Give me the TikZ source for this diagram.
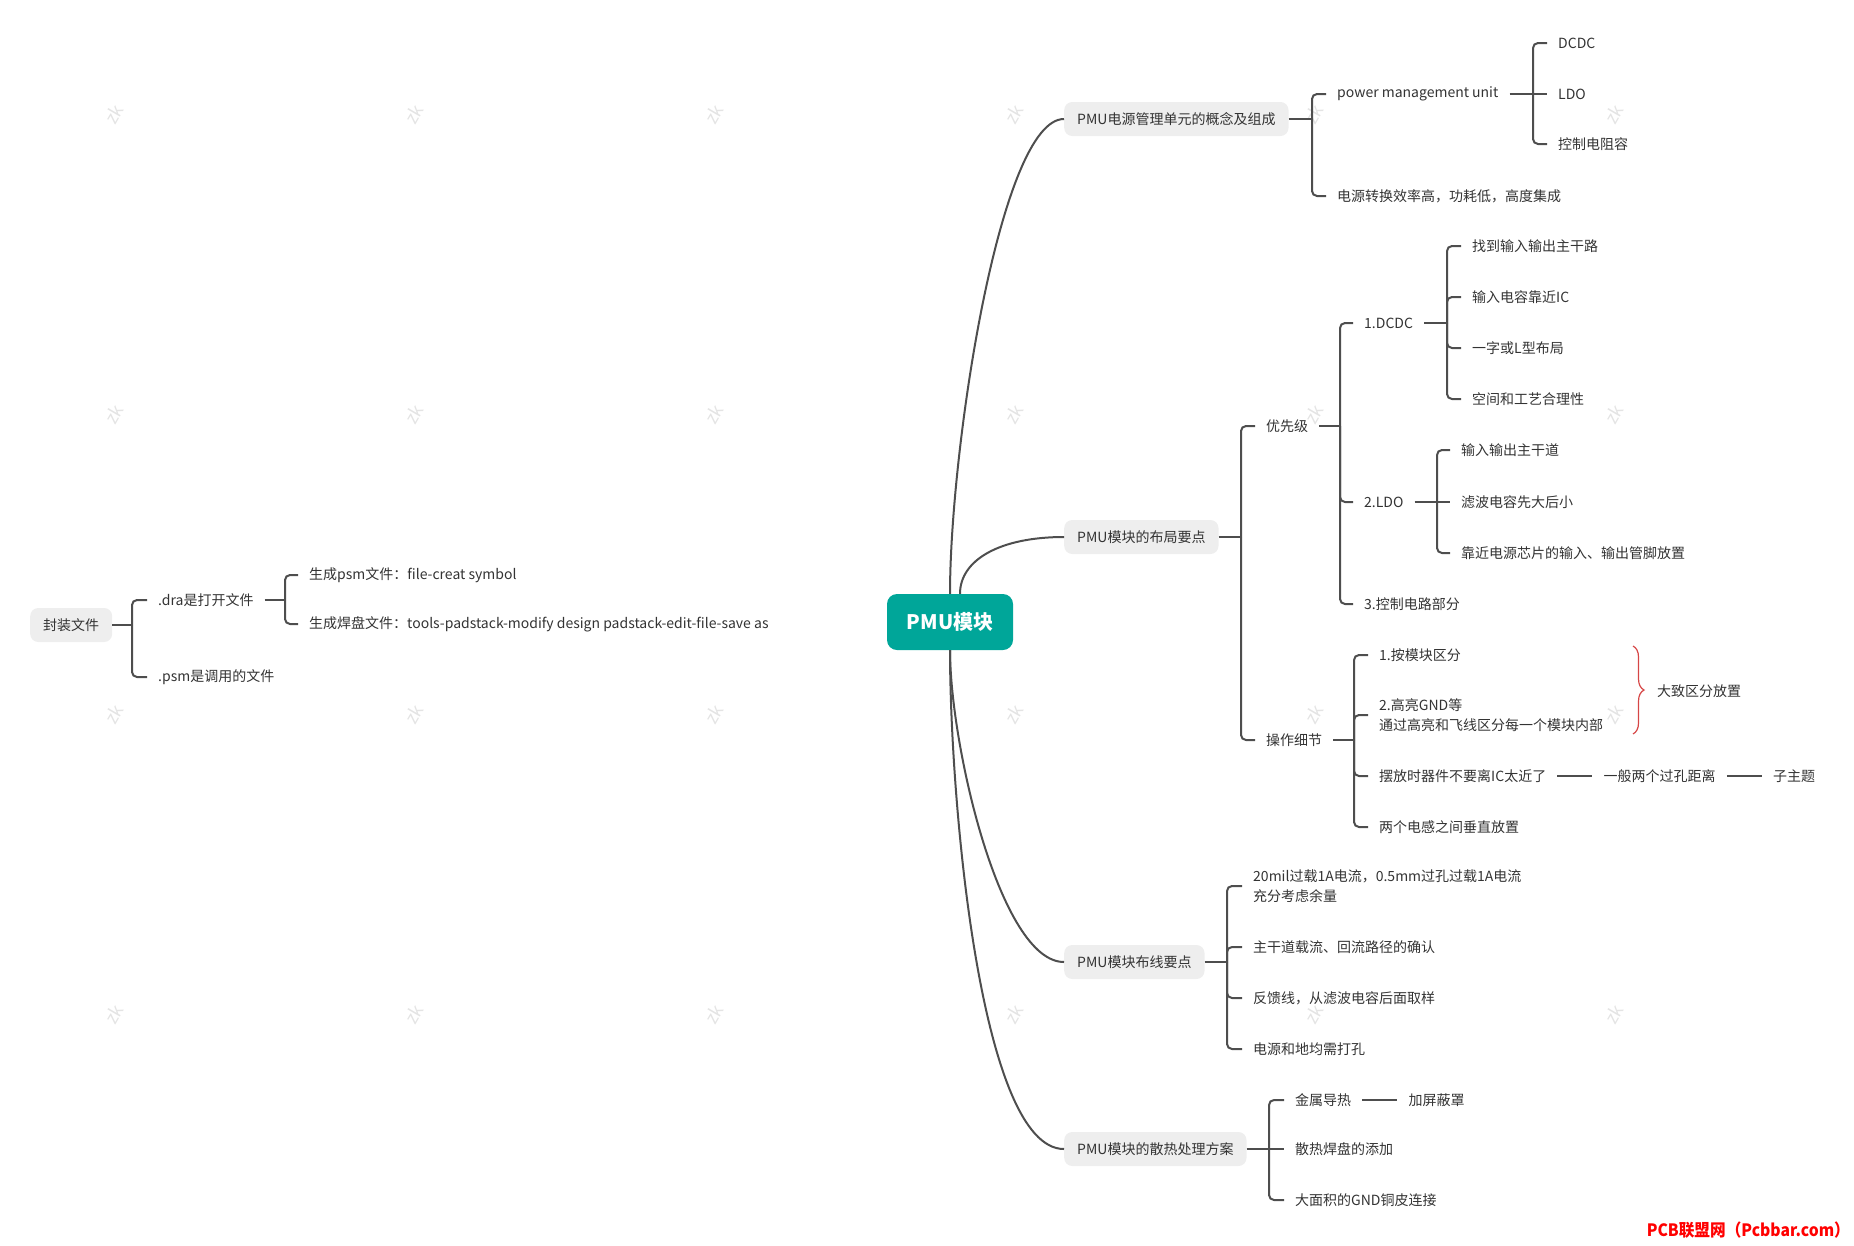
\documentclass[tikz,border=0pt]{standalone}
\usepackage{fontspec}
\setmainfont{Noto Sans CJK SC}
\usetikzlibrary{positioning, decorations.pathreplacing}

\definecolor{rootteal}{RGB}{0,166,153}
\definecolor{topicgray}{RGB}{238,238,238}
\definecolor{txt}{RGB}{51,51,51}
\definecolor{linegray}{RGB}{78,78,78}
\definecolor{wmgray}{RGB}{228,228,228}
\definecolor{bracered}{RGB}{214,70,70}

\begin{document}
\begin{tikzpicture}[x=1pt, y=-1pt,
  root/.style = {fill=rootteal, text=white, font=\bfseries\fontsize{20}{24}\selectfont, rounded corners=10pt, minimum width=126pt, minimum height=56pt, inner sep=0pt},
  topic/.style = {fill=topicgray, text=txt, font=\fontsize{14}{18}\selectfont, rounded corners=8pt, inner xsep=13pt, inner ysep=0pt, minimum height=34pt, anchor=west},
  leaf/.style = {text=txt, font=\fontsize{14}{20}\selectfont, inner xsep=11pt, inner ysep=2pt, align=left, anchor=west},
  link/.style = {draw=linegray, line width=2pt, rounded corners=5pt},
  curve/.style = {draw=linegray, line width=2pt},
  wmark/.style = {text=wmgray, font=\fontsize{18}{18}\selectfont, rotate=60, inner sep=0pt}]
\useasboundingbox (0,0) rectangle (1854,1245);
% faint watermarks
\foreach \x in {114,414,...,1614}
  \foreach \y in {114,414,714,1014}
    \node[wmark] at (\x,\y) {zk};

\node[root] (pmu) at (950,622) {PMU模块};

% left branch
\node[topic] (pkg) at (30,625) {封装文件};
\node[leaf] (dra) at (147,600) {.dra是打开文件};
\node[leaf] (psm) at (147,677) {.psm是调用的文件};
\node[leaf] (psmfile) at (298,575) {生成psm文件：file-creat symbol};
\node[leaf] (padfile) at (298,624) {生成焊盘文件：tools-padstack-modify design padstack-edit-file-save as};

% topic 1
\node[topic] (concept) at (1064,119) {PMU电源管理单元的概念及组成};
\node[leaf] (unit) at (1326,94) {power management unit};
\node[leaf] (eff) at (1326,196) {电源转换效率高，功耗低，高度集成};
\node[leaf] (dcdc) at (1547,43) {DCDC};
\node[leaf] (ldo) at (1547,94) {LDO};
\node[leaf] (rc) at (1547,144) {控制电阻容};

% topic 2
\node[topic] (layout) at (1064,537) {PMU模块的布局要点};
\node[leaf] (prio) at (1255,426) {优先级};
\node[leaf] (oper) at (1255,740) {操作细节};
\node[leaf] (pdcdc) at (1353,323) {1.DCDC};
\node[leaf] (pldo) at (1353,502) {2.LDO};
\node[leaf] (pctrl) at (1353,604) {3.控制电路部分};
\node[leaf] (d1) at (1461,246) {找到输入输出主干路};
\node[leaf] (d2) at (1461,297) {输入电容靠近IC};
\node[leaf] (d3) at (1461,348) {一字或L型布局};
\node[leaf] (d4) at (1461,399) {空间和工艺合理性};
\node[leaf] (l1) at (1450,450) {输入输出主干道};
\node[leaf] (l2) at (1450,502) {滤波电容先大后小};
\node[leaf] (l3) at (1450,553) {靠近电源芯片的输入、输出管脚放置};
\node[leaf] (o1) at (1368,655) {1.按模块区分};
\node[leaf] (o2) at (1368,715) {2.高亮GND等\\通过高亮和飞线区分每一个模块内部};
\node[leaf] (o3) at (1368,776) {摆放时器件不要离IC太近了};
\node[leaf] (o4) at (1368,827) {两个电感之间垂直放置};
\node[leaf, right=35pt of o3] (via) {一般两个过孔距离};
\node[leaf, right=35pt of via] (sub) {子主题};
\coordinate (bracetop) at (1633,646);
\coordinate (bracebot) at (1633,734);
\node[leaf] (zone) at (1646,691) {大致区分放置};

% topic 3
\node[topic] (route) at (1064,962) {PMU模块布线要点};
\node[leaf] (w1) at (1242,886) {20mil过载1A电流，0.5mm过孔过载1A电流\\充分考虑余量};
\node[leaf] (w2) at (1242,947) {主干道载流、回流路径的确认};
\node[leaf] (w3) at (1242,998) {反馈线，从滤波电容后面取样};
\node[leaf] (w4) at (1242,1049) {电源和地均需打孔};

% topic 4
\node[topic] (heat) at (1064,1149) {PMU模块的散热处理方案};
\node[leaf] (h1) at (1284,1100) {金属导热};
\node[leaf, right=35pt of h1] (shield) {加屏蔽罩};
\node[leaf] (h2) at (1284,1149) {散热焊盘的添加};
\node[leaf] (h3) at (1284,1200) {大面积的GND铜皮连接};

\node[text=red, font=\bfseries\fontsize{17}{17}\selectfont, anchor=east, inner sep=0pt, xscale=.92] (site) at (1850,1230) {PCB联盟网（Pcbbar.com）};

% bracket joints
\coordinate (bpkg) at (132,625);
\coordinate (bdra) at (285,600);
\coordinate (bconcept) at (1312,119);
\coordinate (bunit) at (1533,94);
\coordinate (blayout) at (1241,537);
\coordinate (bprio) at (1340,426);
\coordinate (bdcdc) at (1447,323);
\coordinate (bldo) at (1437,502);
\coordinate (boper) at (1354,740);
\coordinate (broute) at (1227,962);
\coordinate (bheat) at (1269,1149);

% curves from the root
\draw[curve] (pmu.north) .. controls +(0,-145) and +(-64,0) .. (concept.west);
\draw[curve] ([xshift=10pt]pmu.north) .. controls +(0,-34) and +(-64,0) .. (layout.west);
\draw[curve] (pmu.south) .. controls +(0,94) and +(-64,0) .. (route.west);
\draw[curve] (pmu.south) .. controls +(0,150) and +(-84,0) .. (heat.west);

% brackets
\draw[link] (pkg.east) -- (bpkg);
\draw[link] (bpkg) |- (dra.west); \draw[link] (bpkg) |- (psm.west);
\draw[link] (dra.east) -- (bdra);
\draw[link] (bdra) |- (psmfile.west); \draw[link] (bdra) |- (padfile.west);

\draw[link] (concept.east) -- (bconcept);
\draw[link] (bconcept) |- (unit.west); \draw[link] (bconcept) |- (eff.west);
\draw[link] (unit.east) -- (bunit);
\draw[link] (bunit) |- (dcdc.west); \draw[link] (bunit) -- (ldo.west); \draw[link] (bunit) |- (rc.west);

\draw[link] (layout.east) -- (blayout);
\draw[link] (blayout) |- (prio.west); \draw[link] (blayout) |- (oper.west);
\draw[link] (prio.east) -- (bprio);
\draw[link] (bprio) |- (pdcdc.west); \draw[link] (bprio) |- (pldo.west); \draw[link] (bprio) |- (pctrl.west);
\draw[link] (pdcdc.east) -- (bdcdc);
\draw[link] (bdcdc) |- (d1.west); \draw[link] (bdcdc) |- (d2.west);
\draw[link] (bdcdc) |- (d3.west); \draw[link] (bdcdc) |- (d4.west);
\draw[link] (pldo.east) -- (bldo);
\draw[link] (bldo) |- (l1.west); \draw[link] (bldo) -- (l2.west); \draw[link] (bldo) |- (l3.west);
\draw[link] (oper.east) -- (boper);
\draw[link] (boper) |- (o1.west); \draw[link] (boper) |- (o2.west);
\draw[link] (boper) |- (o3.west); \draw[link] (boper) |- (o4.west);
\draw[link] (o3.east) -- (via.west);
\draw[link] (via.east) -- (sub.west);
\draw[draw=bracered, line width=1.2pt, decorate, decoration={brace, amplitude=11pt}] (bracetop) -- (bracebot);

\draw[link] (route.east) -- (broute);
\draw[link] (broute) |- (w1.west); \draw[link] (broute) |- (w2.west);
\draw[link] (broute) |- (w3.west); \draw[link] (broute) |- (w4.west);

\draw[link] (heat.east) -- (bheat);
\draw[link] (bheat) |- (h1.west); \draw[link] (bheat) -- (h2.west); \draw[link] (bheat) |- (h3.west);
\draw[link] (h1.east) -- (shield.west);
\end{tikzpicture}
\end{document}
